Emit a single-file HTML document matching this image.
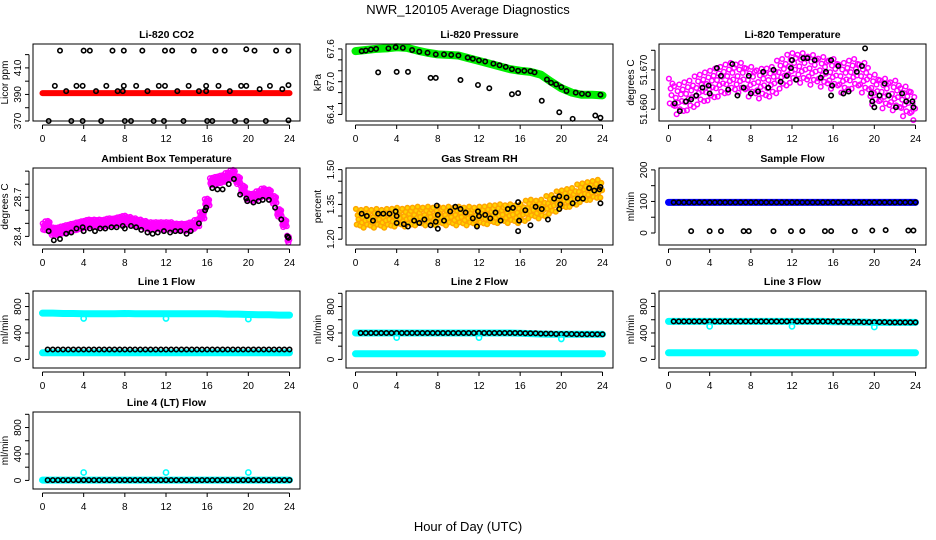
<!DOCTYPE html>
<html><head><meta charset="utf-8"><style>
body{margin:0;background:#fff}
svg{display:block;font-family:"Liberation Sans",sans-serif}
</style></head><body>
<svg id="c" width="936" height="540" viewBox="0 0 936 540" xmlns="http://www.w3.org/2000/svg">
<text x="468" y="14" text-anchor="middle" font-size="13">NWR_120105  Average Diagnostics</text>
<text x="468" y="531" text-anchor="middle" font-size="13">Hour of Day (UTC)</text>
</svg>
<script>
// ---------- data ----------
const xTicks=[0,4,8,12,16,20,24];
const hourly=[0,1,2,3,4,5,6,7,8,9,10,11,12,13,14,15,16,17,18,19,20,21,22,23,24];
const halfHours=[0.5,1,1.5,2,2.5,3,3.5,4,4.5,5,5.5,6,6.5,7,7.5,8,8.5,9,9.5,10,10.5,11,11.5,12,12.5,13,13.5,14,14.5,15,15.5,16,16.5,17,17.5,18,18.5,19,19.5,20,20.5,21,21.5,22,22.5,23,23.5,24];

// CO2
const co2Red=[391,391,391,391,391,391,391,391,391,391,391,391,391,391,391,391,391,391,391,391,391,391,391,391,391];
const co2Hours=[1.7,4.0,4.6,6.8,7.9,9.7,11.9,12.6,14.7,16.8,17.7,19.8,20.6,22.7,23.9, 0.6,2.8,3.9,5.7,8.0,8.6,10.8,11.8,13.7,16.0,16.5,18.7,19.8,21.7,23.9, 1.2,3.3,3.9,6.2,7.9,9.1,11.3,11.9,14.2,15.9,17.1,19.3,19.8,23.9, 2.3,5.2,7.3,7.8,10.2,13.1,15.2,15.9,18.2,21.1,23.3,22.1];
const co2Vals=[423,423,423,423,423,423,423,423,423,423,423,424,423,423,423, 370,370,370,370,370,370,370,370,370,370,370,370,370,370,370.5, 396.5,396.5,396.5,396.5,396.5,396.5,396.5,396.5,396.5,396.5,396.5,396.5,396.5,397, 392.5,392.5,392.5,392.5,392.5,392.5,392.5,392.5,392.5,394,394,396.5];

// Pressure
const presCurve=[67.56,67.58,67.6,67.61,67.63,67.62,67.57,67.53,67.5,67.49,67.48,67.43,67.38,67.33,67.28,67.23,67.2,67.18,67.13,67.0,66.88,66.8,66.76,66.76,66.75];
const presHours=[0.6,1.0,1.5,2.0,3.2,3.9,4.6,5.5,6.2,7.0,7.8,8.6,9.3,10.0,10.9,11.4,12.0,12.6,13.4,14.0,14.6,15.2,15.8,16.4,17.0,17.4,18.6,19.0,19.5,20.0,20.5,21.4,22.0,22.6,23.8, 2.2,4.0,5.1,7.3,7.8,10.2,11.9,13.0,15.2,15.8,18.1,19.8,21.1,23.3,23.8];
const presVals=[67.56,67.57,67.59,67.6,67.61,67.63,67.62,67.58,67.55,67.53,67.5,67.5,67.49,67.48,67.44,67.42,67.39,67.37,67.33,67.3,67.27,67.23,67.2,67.2,67.19,67.17,67.04,66.98,66.95,66.9,66.83,66.8,66.78,66.77,66.76, 67.17,67.18,67.18,67.07,67.07,67.03,66.94,66.88,66.77,66.79,66.65,66.44,66.32,66.38,66.34];

// Li-820 temperature
const tempCenter=[51.664,51.6625,51.6635,51.665,51.666,51.667,51.668,51.668,51.667,51.6665,51.667,51.669,51.6705,51.6705,51.670,51.6695,51.669,51.668,51.669,51.668,51.665,51.664,51.6635,51.662,51.661];
const tempHours=[0.6,1.1,1.7,2.2,2.7,3.3,3.9,4.0,4.7,5.1,5.8,6.2,6.7,7.3,7.8,8.0,8.7,9.2,9.7,10.2,10.9,11.5,11.9,12.0,12.4,13.1,13.5,14.2,14.8,15.3,15.8,15.9,15.8,16.5,17.0,17.5,18.3,18.8,19.1,19.7,19.8,20.0,20.5,21.0,21.4,22.1,22.7,23.1,23.7,23.8];
const tempVals=[51.6615,51.6595,51.662,51.6625,51.6635,51.6655,51.666,51.664,51.6705,51.6685,51.665,51.6715,51.6635,51.6655,51.6685,51.664,51.6645,51.6695,51.6655,51.670,51.667,51.6685,51.6705,51.6725,51.6675,51.673,51.673,51.6725,51.668,51.6695,51.6725,51.666,51.6635,51.671,51.664,51.6645,51.6695,51.671,51.6755,51.664,51.662,51.6605,51.6635,51.6665,51.6635,51.6605,51.664,51.662,51.662,51.6605];

// Ambient box temperature
const ambHoursC=[0,0.5,1,1.5,2,2.5,3,3.5,4,4.5,5,5.5,6,6.5,7,7.5,8,8.5,9,9.5,10,10.5,11,11.5,12,12.5,13,13.5,14,14.5,15,15.5,16,16.5,17,17.5,18,18.5,19,19.5,20,20.5,21,21.5,22,22.5,23,23.5,24];
const ambCenter=[28.47,28.49,28.44,28.44,28.45,28.46,28.47,28.48,28.49,28.5,28.5,28.5,28.5,28.51,28.51,28.52,28.53,28.52,28.51,28.5,28.49,28.48,28.48,28.48,28.48,28.48,28.47,28.47,28.47,28.48,28.5,28.56,28.66,28.82,28.83,28.84,28.86,28.88,28.83,28.76,28.7,28.7,28.72,28.74,28.73,28.68,28.58,28.5,28.38];
const ambHours=[0.6,1.1,1.7,2.3,2.8,3.3,3.9,4.0,4.6,5.1,5.6,6.1,6.7,7.2,7.8,8.0,8.6,9.1,9.6,10.2,10.7,11.2,11.8,12.4,12.9,13.4,14.0,14.4,15.2,15.8,15.9,16.5,17.0,17.5,18.1,18.6,19.2,19.8,19.9,20.5,21.0,21.4,22.0,22.6,23.2,23.8,23.9];
const ambVals=[28.44,28.37,28.38,28.42,28.43,28.46,28.47,28.44,28.46,28.44,28.46,28.46,28.47,28.47,28.48,28.46,28.48,28.47,28.45,28.43,28.42,28.43,28.44,28.43,28.44,28.44,28.42,28.44,28.5,28.6,28.62,28.77,28.76,28.76,28.8,28.84,28.72,28.69,28.67,28.66,28.67,28.68,28.68,28.62,28.53,28.4,28.39];

// Gas stream RH
const rhCenter=[1.29,1.29,1.29,1.29,1.295,1.295,1.30,1.30,1.30,1.30,1.30,1.30,1.30,1.305,1.31,1.31,1.31,1.33,1.33,1.35,1.37,1.38,1.40,1.41,1.42];
const rhHours=[0.6,1.1,1.7,2.2,2.7,3.3,3.9,4.0,4.0,4.7,5.1,5.7,6.2,6.7,7.3,7.8,7.9,8.0,8.0,8.6,9.2,9.7,10.2,10.7,11.4,11.8,11.9,12.0,12.6,13.1,13.6,14.1,14.8,15.3,15.8,15.8,15.9,16.5,17.0,17.5,18.1,18.7,19.3,19.8,19.8,19.9,20.5,21.1,21.6,22.1,22.7,23.2,23.7,23.8,23.8];
const rhVals=[1.31,1.30,1.28,1.31,1.31,1.31,1.32,1.30,1.27,1.265,1.255,1.28,1.27,1.285,1.26,1.275,1.345,1.245,1.305,1.28,1.32,1.34,1.33,1.315,1.29,1.255,1.32,1.30,1.305,1.29,1.315,1.28,1.33,1.335,1.36,1.235,1.28,1.325,1.26,1.34,1.33,1.285,1.375,1.385,1.33,1.35,1.38,1.355,1.375,1.375,1.42,1.41,1.415,1.425,1.355];

// Sample flow
const sampleBlue=[97,97,97,97,97,97,97,97,97,97,97,97,97,97,97,97,97,97,97,97,97,97,97,97,97];
const sampleLowHours=[2.2,4.0,5.1,7.3,7.8,10.2,11.9,13.0,15.2,15.8,18.1,19.8,21.1,23.3,23.8];
const sampleLowVals=[6,6,6,6,6,6,6,6,6,6,6,8,9,8,8];
const sampleBlack=[97,97,97,97,97,97,97,97,97,97,97,97,97,97,97,97,97,97,97,97,97,97,97,97,97,97,97,97,97,97,97,97,97,97,97,97,97,97,97,97,97,97,97,97,97,97,97,97];

// Line flows
const dipHours=[4,12,20];
const line1Upper=[700,700,695,695,690,690,690,690,695,690,690,690,690,690,690,690,690,690,685,685,680,675,675,670,670];
const line1Lower=[100,100,100,100,100,100,100,100,100,100,100,100,100,100,100,100,100,100,100,100,100,100,100,100,100];
const line1Black=[150,150,150,150,150,150,150,150,150,150,150,150,150,150,150,150,150,150,150,150,150,150,150,150,150,150,150,150,150,150,150,150,150,150,150,150,150,150,150,150,150,150,150,150,150,150,150,150];
const line1Dips=[620,620,610];
const line2Upper=[400,400,400,400,400,400,400,400,400,400,400,400,400,400,400,400,395,390,385,380,380,380,380,380,380];
const line2Lower=[85,85,85,85,85,85,85,85,85,85,85,85,85,85,85,85,85,85,85,85,85,85,85,85,85];
const line2Black=[400,400,400,400,400,400,400,400,400,400,400,400,400,400,400,400,400,400,400,400,400,400,400,400,400,400,400,400,400,400,400,400,395,395,395,390,390,390,385,385,385,385,380,380,380,380,380,380];
const line2Dips=[330,330,310];
const line3Upper=[575,575,575,575,575,575,575,575,575,575,575,575,575,575,575,575,570,570,565,565,560,560,560,560,560];
const line3Lower=[100,100,100,100,100,100,100,100,100,100,100,100,100,100,100,100,100,100,100,100,100,100,100,100,100];
const line3Black=[575,575,575,575,575,575,575,575,575,575,575,575,575,575,575,575,575,575,575,575,575,575,575,575,575,575,575,575,575,575,575,575,570,570,570,570,570,565,565,565,565,565,560,560,560,560,560,560];
const line3Dips=[500,500,490];
const line4Lower=[5,5,5,5,5,5,5,5,5,5,5,5,5,5,5,5,5,5,5,5,5,5,5,5,5];
const line4Black=[5,5,5,5,5,5,5,5,5,5,5,5,5,5,5,5,5,5,5,5,5,5,5,5,5,5,5,5,5,5,5,5,5,5,5,5,5,5,5,5,5,5,5,5,5,5,5,5];
const line4Dips=[120,120,120];

// ---------- drawing ----------
const NS='http://www.w3.org/2000/svg';
const svg=document.getElementById('c');
const cloudDh=[-0.46,-0.38,-0.29,-0.21,-0.12,-0.04,0.04,0.12,0.21,0.29,0.38,0.46];
const cloudDv=[0.8,-0.4,0.1,-0.9,0.5,-0.2,0.9,-0.6,0.3,-0.1,0.6,-0.7];
function el(tag,attrs,parent){const e=document.createElementNS(NS,tag);for(const k in attrs)e.setAttribute(k,attrs[k]);(parent||svg).appendChild(e);return e;}

function makePanel(col,row,title,ylab,ymin,ymax,yticks,ylabels,name){
  const left=33+col*313, top=[44,168,291,412][row], w=267, h=77;
  const g=el('g',{});
  
  
  const x0=left+9.5, xs=247/24;
  const P={g,left,top,w,h,sx:v=>x0+v*xs,sy:v=>top+(ymax-v)/(ymax-ymin)*h};
  const t=el('text',{x:left+w/2,y:top-6,'text-anchor':'middle','font-size':'10.5','font-weight':'bold'},g);t.textContent=title;
  
  
  const xa=el('g',{},g);
  
  
  el('line',{x1:P.sx(0),x2:P.sx(24),y1:top+h+4,y2:top+h+4,stroke:'#000','stroke-width':1},xa);
  xTicks.forEach(v=>{el('line',{x1:P.sx(v),x2:P.sx(v),y1:top+h+4,y2:top+h+8,stroke:'#000'},xa);
    const tx=el('text',{x:P.sx(v),y:top+h+21,'text-anchor':'middle','font-size':'10'},xa);tx.textContent=v;});
  const ya=el('g',{},g);
  
  
  el('line',{x1:left-4,x2:left-4,y1:P.sy(yticks[0]),y2:P.sy(yticks[yticks.length-1]),stroke:'#000'},ya);
  yticks.forEach((v,i)=>{const y=P.sy(v);el('line',{x1:left-8,x2:left-4,y1:y,y2:y,stroke:'#000'},ya);
    if(ylabels[i]!==''){const tx=el('text',{x:0,y:0,'text-anchor':'middle','font-size':'10',transform:`translate(${left-12},${y}) rotate(-90)`},ya);tx.textContent=ylabels[i];}});
  const yl=el('text',{x:0,y:0,'text-anchor':'middle','font-size':'10',transform:`translate(${left-25},${top+h/2}) rotate(-90)`},g);yl.textContent=ylab;
  
  
  return P;
}
function frame(P,name){const r=el('rect',{x:P.left,y:P.top,width:P.w,height:P.h,fill:'none',stroke:'#000','stroke-width':1},P.g);
  
  }
function pts(P,hours,vals,color,name,r){const g=el('g',{},P.g);
  
  
  hours.forEach((hh,i)=>{const c=el('circle',{cx:P.sx(hh),cy:P.sy(vals[i]),r:r||2.2,fill:'none',stroke:color,'stroke-width':1.6},g);
    
    });}
function band(P,hours,vals,color,width,name){const g=el('g',{},P.g);
  
  
  el('polyline',{points:hours.map((hh,i)=>P.sx(hh)+','+P.sy(vals[i])).join(' '),fill:'none',stroke:color,'stroke-width':width,'stroke-linecap':'round','stroke-linejoin':'round'},g);}
function cloud(P,hours,centers,spread,color,name,fill){const g=el('g',{},P.g);
  
  
  hours.forEach((hh,i)=>{const step=(hours[1]-hours[0]);cloudDh.forEach((dh,k)=>{const x=hh+dh*step;if(x<0||x>24)return;
    const c=el('circle',{cx:P.sx(x),cy:P.sy(centers[i]+cloudDv[k]*spread),r:2.3,fill:fill||'none',stroke:color,'stroke-width':1.5},g);
    
    });});}

// Panel 1 CO2
let P=makePanel(0,0,'Li-820 CO2','Licor ppm',370,428,[370,380,390,400,410,420],['370','','390','','410','']);
band(P,hourly,co2Red,'#ff0000',6,'co2-red-series');
pts(P,co2Hours,co2Vals,'#000','co2-black-series');frame(P,'co2');
// Panel 2 Pressure
P=makePanel(1,0,'Li-820 Pressure','kPa',66.28,67.69,[66.4,66.6,66.8,67.0,67.2,67.4,67.6],['66.4','','','67.0','','','67.6']);
band(P,hourly,presCurve,'#00ee00',8,'pressure-green-series');
pts(P,presHours,presVals,'#000','pressure-black-series');frame(P,'pressure');
// Panel 3 Temperature
P=makePanel(2,0,'Li-820 Temperature','degrees C',51.657,51.6766,[51.660,51.665,51.670,51.675],['51.660','','51.670','']);
cloud(P,hourly,tempCenter,0.0042,'#ff00ff','temperature-magenta-series');
pts(P,tempHours,tempVals,'#000','temperature-black-series');frame(P,'temperature');
// Panel 4 Ambient
P=makePanel(0,1,'Ambient Box Temperature','degrees C',28.334,28.924,[28.4,28.5,28.6,28.7,28.8,28.9],['28.4','','','28.7','','']);
cloud(P,ambHoursC,ambCenter,0.032,'#ff00ff','ambient-magenta-series');
pts(P,ambHours,ambVals,'#000','ambient-black-series');frame(P,'ambient');
// Panel 5 RH
P=makePanel(1,1,'Gas Stream RH','percent',1.175,1.507,[1.20,1.25,1.30,1.35,1.40,1.45,1.50],['1.20','','','1.35','','','1.50']);
cloud(P,hourly,rhCenter,0.045,'#ffa500','rh-orange-series','#ffd400');
pts(P,rhHours,rhVals,'#000','rh-black-series');frame(P,'rh');
// Panel 6 Sample flow
P=makePanel(2,1,'Sample Flow','ml/min',-38,206,[0,50,100,150,200],['0','','100','','200']);
band(P,hourly,sampleBlue,'#0000ff',7,'sample-blue-series');
pts(P,halfHours,sampleBlack,'#000','sample-black-series');
pts(P,sampleLowHours,sampleLowVals,'#000','sample-low-series');frame(P,'sample');
// Line flows
const fT=[0,200,400,600,800,1000], fL=['0','','400','','800',''];
function flowPanel(col,row,title,name,upper,lower,black,dips){
  const P=makePanel(col,row,title,'ml/min',-130,1035,fT,fL);
  if(upper)band(P,hourly,upper,'#00ffff',7,name+'-cyan-upper-series');
  band(P,hourly,lower,'#00ffff',7,name+'-cyan-lower-series');
  pts(P,halfHours,black,'#000',name+'-black-series');
  pts(P,dipHours,dips,'#00ffff',name+'-cyan-dips',2.6);
  frame(P,name);
}
flowPanel(0,2,'Line 1 Flow','line1',line1Upper,line1Lower,line1Black,line1Dips);
flowPanel(1,2,'Line 2 Flow','line2',line2Upper,line2Lower,line2Black,line2Dips);
flowPanel(2,2,'Line 3 Flow','line3',line3Upper,line3Lower,line3Black,line3Dips);
flowPanel(0,3,'Line 4 (LT) Flow','line4',null,line4Lower,line4Black,line4Dips);
</script>
</body></html>
